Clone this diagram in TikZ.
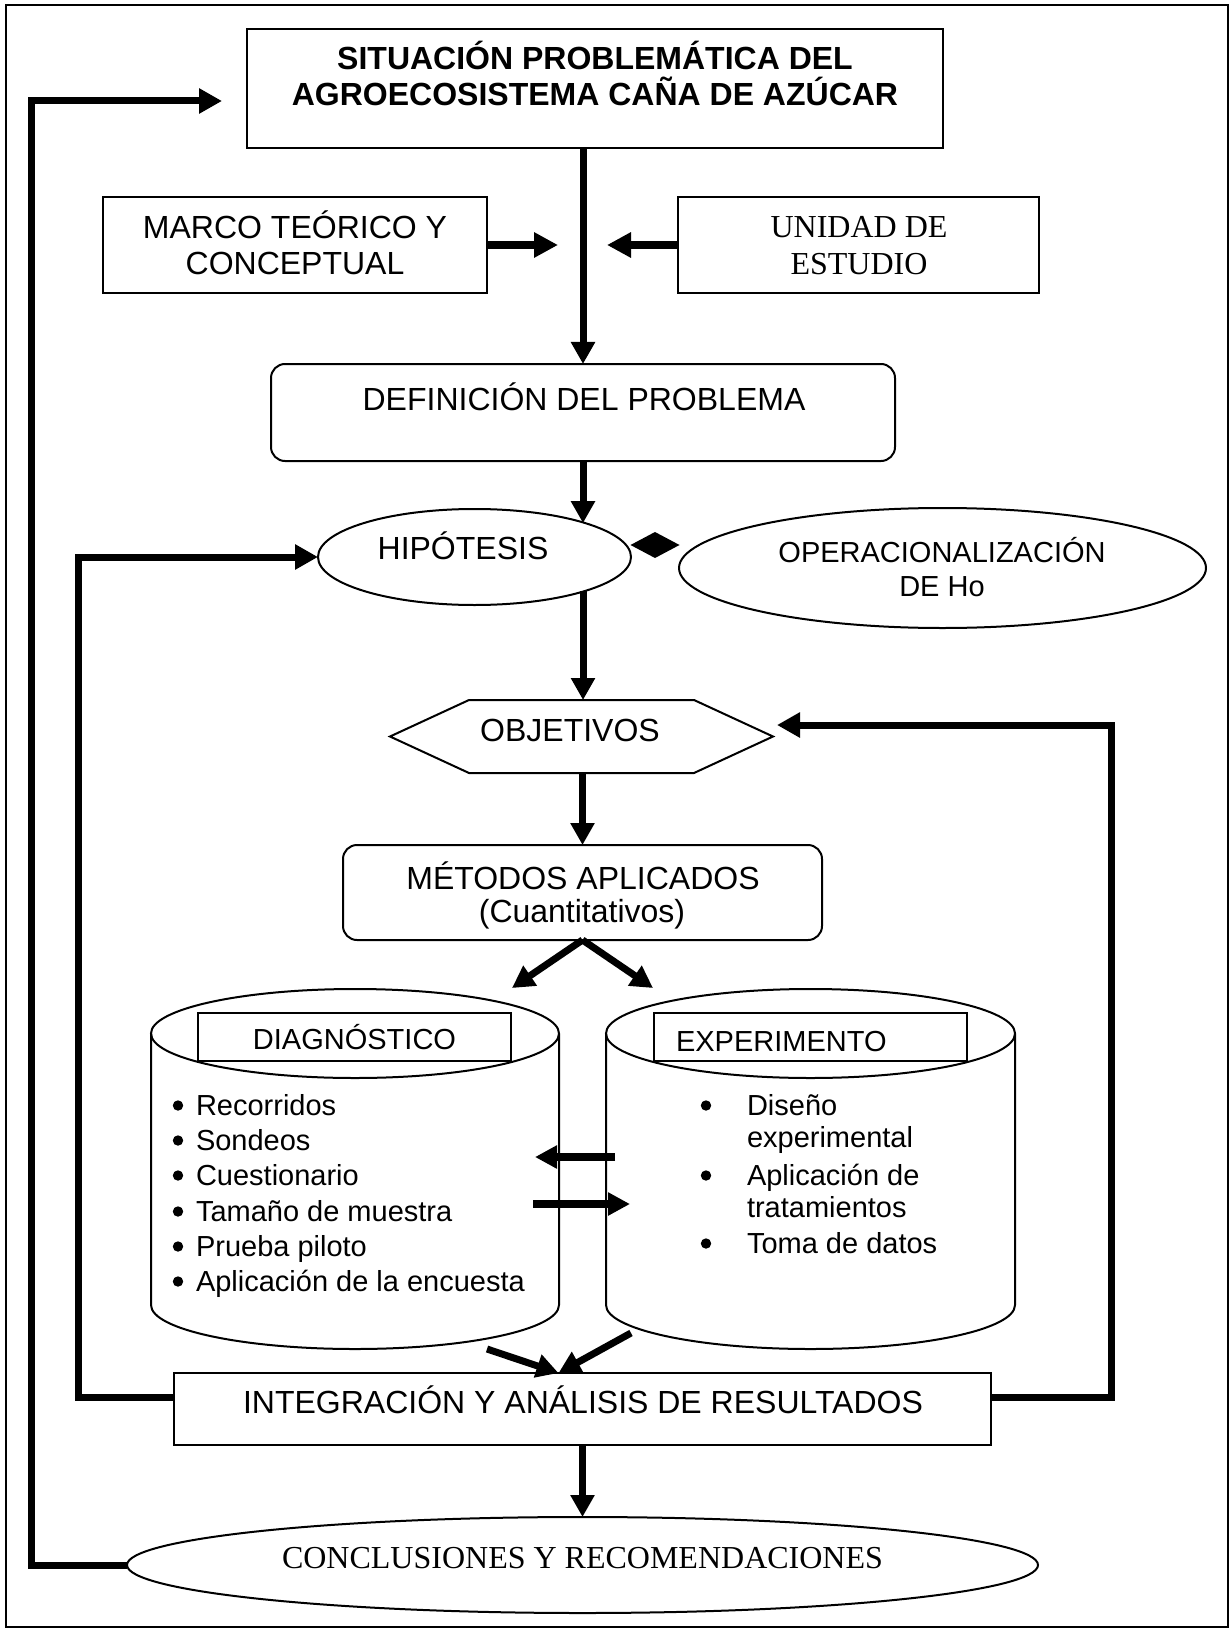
\documentclass[tikz,border=0pt]{standalone}
\usepackage{fontspec}
\setmainfont{Liberation Sans}
\newfontfamily\tnr{Liberation Serif}
\usetikzlibrary{arrows.meta,shapes.geometric}
\begin{document}
\begin{tikzpicture}[x=0.5pt,y=-0.5pt,
  box/.style={draw, line width=1pt, inner sep=0pt, outer sep=0pt},
  rbox/.style={box, rounded corners=7pt},
  oval/.style={box, ellipse},
  ghost/.style={inner sep=0pt, outer sep=0pt},
  lbl/.style={inner sep=0pt, outer sep=0pt, anchor=base, font=\fontsize{16}{18}\selectfont},
  lblsm/.style={inner sep=0pt, outer sep=0pt, anchor=base, font=\fontsize{14.5}{17}\selectfont},
  lbltnr/.style={inner sep=0pt, outer sep=0pt, anchor=base, font=\tnr\fontsize{16}{18}\selectfont},
  item/.style={lblsm, anchor=base west},
  flow/.style={line width=3.5pt, -{Triangle[length=11pt,width=11.5pt]}},
  loopar/.style={line width=3.5pt, line join=miter, -{Triangle[length=11.5pt,width=12pt]}},
  blockar/.style={line width=4.2pt, -{Triangle[length=12pt,width=12pt]}},
  sidear/.style={line width=3.6pt, -{Triangle[length=11pt,width=11pt]}}
]
\useasboundingbox (0,0) rectangle (1231,1631);
\draw[line width=1pt] (6,5) rectangle (1228,1627);

% title
\node[box, minimum width=348pt, minimum height=59.5pt] (title) at (595,88.75) {};
\node[lbl, font=\bfseries\fontsize{16}{18}\selectfont] (titleA) at (595,70) {SITUACIÓN PROBLEMÁTICA DEL};
\node[lbl, font=\bfseries\fontsize{16}{18}\selectfont] (titleB) at (595,105.5) {AGROECOSISTEMA CAÑA DE AZÚCAR};

% marco / unidad
\node[box, minimum width=192pt, minimum height=48pt] (marco) at (295,245) {};
\node[lbl] (marcoA) at (295,238.5) {MARCO TEÓRICO Y};
\node[lbl] (marcoB) at (295,274.5) {CONCEPTUAL};
\node[box, minimum width=180.5pt, minimum height=48pt] (unidad) at (858.5,245) {};
\node[lbltnr] (unidadA) at (859,237.6) {UNIDAD DE};
\node[lbltnr] (unidadB) at (859,274.6) {ESTUDIO};

% definicion
\node[rbox, minimum width=312pt, minimum height=48.5pt] (def) at (583,412.5) {};
\node[lbl] (defA) at (584,410.5) {DEFINICIÓN DEL PROBLEMA};

% hipotesis / operacionalizacion
\node[oval, minimum width=156.5pt, minimum height=48pt] (hip) at (474.5,557) {};
\node[lbl] (hipA) at (463,559.5) {HIPÓTESIS};
\fill (630.5,545) -- (655,532) -- (679.5,545) -- (655,558) -- cycle;
\node[oval, minimum width=263.5pt, minimum height=60pt] (op) at (942.5,568) {};
\node[lblsm] (opA) at (942,562.4) {OPERACIONALIZACIÓN};
\node[lblsm] (opB) at (942,596.4) {DE Ho};

% objetivos
\node[ghost, minimum width=191.5pt, minimum height=36.5pt] (obj) at (581.5,736.5) {};
\draw[line width=1pt] (obj.west) -- ([xshift=39.5pt]obj.north west) -- ([xshift=-39.5pt]obj.north east)
  -- (obj.east) -- ([xshift=-39.5pt]obj.south east) -- ([xshift=39.5pt]obj.south west) -- cycle;
\node[lbl] (objA) at (570,741.5) {OBJETIVOS};

% metodos
\node[rbox, minimum width=239.5pt, minimum height=47.5pt] (met) at (582.5,892.5) {};
\node[lbl] (metA) at (583,889.5) {MÉTODOS APLICADOS};
\node[lbl] (metB) at (582,922.5) {(Cuantitativos)};

% cylinders
\draw[line width=1pt] (151,1033.5) -- (151,1305) arc[start angle=180, end angle=360, x radius=102pt, y radius=22pt] -- (559,1033.5);
\draw[line width=1pt] (355,1033.5) ellipse[x radius=102pt, y radius=22.25pt];
\draw[line width=1pt] (606,1033.5) -- (606,1305) arc[start angle=180, end angle=360, x radius=102.25pt, y radius=22pt] -- (1015,1033.5);
\draw[line width=1pt] (810.5,1033.5) ellipse[x radius=102.25pt, y radius=22.25pt];

\node[box, minimum width=156.5pt, minimum height=24pt, font=\fontsize{14.5}{17}\selectfont] (diag) at (354.5,1037) {DIAGNÓSTICO};
\node[box, minimum width=156.5pt, minimum height=24pt] (exper) at (810.5,1037) {};
\node[lblsm, anchor=base west] (experA) at (676,1051) {EXPERIMENTO};

% diagnostico items
\foreach \yy in {1115,1150,1185,1221,1256,1291}{\fill (178,\yy-9.5) circle[radius=2.6pt];}
\node[item] (d1) at (196,1115) {Recorridos};
\node[item] (d2) at (196,1150) {Sondeos};
\node[item] (d3) at (196,1185) {Cuestionario};
\node[item] (d4) at (196,1221) {Tamaño de muestra};
\node[item] (d5) at (196,1256) {Prueba piloto};
\node[item] (d6) at (196,1291) {Aplicación de la encuesta};

% experimento items
\foreach \yy in {1115,1185,1253}{\fill (706,\yy-9.5) circle[radius=2.6pt];}
\node[item] (e1) at (747,1115) {Diseño};
\node[item] (e2) at (747,1147) {experimental};
\node[item] (e3) at (747,1185) {Aplicación de};
\node[item] (e4) at (747,1217) {tratamientos};
\node[item] (e5) at (747,1253) {Toma de datos};

% integracion / conclusiones
\node[box, minimum width=408.5pt, minimum height=36pt] (integ) at (582.5,1409) {};
\node[lbl] (integA) at (583,1413.5) {INTEGRACIÓN Y ANÁLISIS DE RESULTADOS};
\node[oval, minimum width=455.5pt, minimum height=48pt] (concl) at (582.5,1565) {};
\node[lbltnr] (conclA) at (582.5,1568.6) {CONCLUSIONES Y RECOMENDACIONES};

% coordinates for free ends
\coordinate (m1) at (558,245);
\coordinate (u1) at (607,245);
\coordinate (dl) at (512,988);
\coordinate (dr) at (653,988);
\coordinate (a1s) at (615,1157);
\coordinate (a1e) at (535,1157);
\coordinate (a2s) at (533,1204);
\coordinate (a2e) at (630,1204);
\coordinate (b1s) at (487,1349);
\coordinate (b2s) at (631,1333);
\coordinate (o1) at (31,101);
\coordinate (o2) at (222,101);
\coordinate (l1) at (78,557);
\coordinate (r1) at (1111,725);
\coordinate (r2) at (777,725);

% main flow
\draw[flow] (title.south -| def.north) -- (def.north);
\draw[blockar] (marco.east) -- (m1);
\draw[blockar] (unidad.west) -- (u1);
\draw[flow] (def.south) -- (hip.17.7 -| def.south);
\draw[flow] (hip.-17.7 -| def.south) -- (def.south |- obj.north);
\draw[flow] (met.north |- obj.south) -- (met.north);
\draw[flow] (met.south) -- (dl);
\draw[flow] (met.south) -- (dr);
\draw[sidear] (a1s) -- (a1e);
\draw[sidear] (a2s) -- (a2e);
\draw[flow] (b1s) -- ([xshift=-12pt]integ.north);
\draw[flow] (b2s) -- ([xshift=-12pt]integ.north);
\draw[flow] (integ.south) -- (concl.north);

% feedback loops
\draw[loopar] (concl.west) -| (o1) -- (o2);
\draw[loopar] ([yshift=6pt]integ.west) -| (l1) -- (hip.west);
\draw[loopar] ([yshift=6pt]integ.east) -| (r1) -- (r2);
\end{tikzpicture}
\end{document}
